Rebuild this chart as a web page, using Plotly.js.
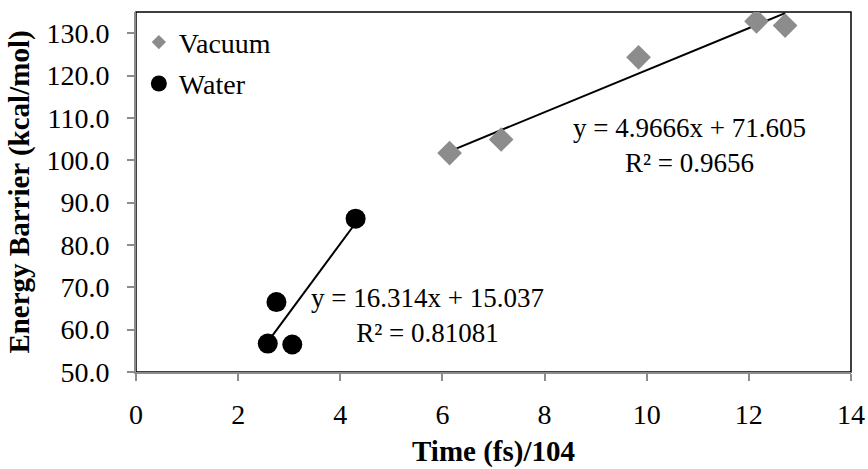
<!DOCTYPE html>
<html>
<head>
<meta charset="utf-8">
<script src="https://cdn.plot.ly/plotly-3.0.1.min.js"></script>
<style>
html,body{margin:0;padding:0;background:#fff;}
#chart{width:868px;height:469px;}
</style>
</head>
<body>
<div id="chart"></div>
<script>
// ---- data ----
const seriesNames = ["Vacuum", "Water"];
const xVacuum = [6.14, 7.15, 9.84, 12.15, 12.71];
const yVacuum = [101.7, 104.9, 124.3, 132.8, 131.8];
const xWater = [2.58, 2.75, 3.06, 4.30];
const yWater = [56.7, 66.5, 56.5, 86.2];
// trendline coefficients as printed on the chart
const fitSlopes = [4.9666, 16.314];
const fitIntercepts = [71.605, 15.037];
const fitR2 = ["0.9656", "0.81081"];
const xTicks = [0, 2, 4, 6, 8, 10, 12, 14];
const yTicks = [50, 60, 70, 80, 90, 100, 110, 120, 130];
const xTitle = "Time (fs)/104";
const yTitle = "Energy Barrier (kcal/mol)";

const FONT = "Liberation Serif";
const GRAY = "#8c8c8c";

function trend(xs, slope, intercept) {
  const lo = Math.min.apply(null, xs), hi = Math.max.apply(null, xs);
  return { x: [lo, hi], y: [slope * lo + intercept, slope * hi + intercept] };
}
const tV = trend(xVacuum, fitSlopes[0], fitIntercepts[0]);
const tW = trend(xWater, fitSlopes[1], fitIntercepts[1]);

const traces = [
  { x: tV.x, y: tV.y, mode: "lines", line: { color: "#000", width: 2 }, showlegend: false, hoverinfo: "skip" },
  { x: tW.x, y: tW.y, mode: "lines", line: { color: "#000", width: 2 }, showlegend: false, hoverinfo: "skip" },
  { x: xVacuum, y: yVacuum, mode: "markers", name: seriesNames[0], showlegend: false,
    marker: { symbol: "diamond", size: 19, color: GRAY } },
  { x: xWater, y: yWater, mode: "markers", name: seriesNames[1], showlegend: false,
    marker: { symbol: "circle", size: 20, color: "#000" } },
  // legend entries (no data, smaller legend symbols as in the reference)
  { x: [null], y: [null], mode: "markers", name: seriesNames[0], legendgroup: "v",
    marker: { symbol: "diamond", size: 11, color: GRAY } },
  { x: [null], y: [null], mode: "markers", name: seriesNames[1], legendgroup: "w",
    marker: { symbol: "circle", size: 16, color: "#000" } }
];

function eqText(i) {
  const sign = fitIntercepts[i] >= 0 ? "+" : "-";
  return "y = " + fitSlopes[i] + "x " + sign + " " + Math.abs(fitIntercepts[i]).toFixed(3) +
         "<br>R² = " + fitR2[i];
}

const layout = {
  width: 868, height: 469,
  margin: { l: 136, r: 17, t: 12, b: 97 },
  paper_bgcolor: "#fff", plot_bgcolor: "#fff",
  font: { family: FONT, size: 27, color: "#000" },
  showlegend: true,
  legend: { x: 0.004, y: 0.985, xanchor: "left", yanchor: "top", bgcolor: "rgba(0,0,0,0)",
            font: { family: FONT, size: 28 }, traceorder: "grouped", tracegroupgap: 2, itemwidth: 30 },
  xaxis: {
    range: [0, 14], tickvals: xTicks, ticktext: xTicks.map(String),
    showgrid: false, zeroline: false, showline: true, linecolor: GRAY, linewidth: 2,
    ticks: "outside", ticklen: 7, tickwidth: 2, tickcolor: GRAY, ticklabelstandoff: 9,
    tickfont: { family: FONT, size: 28 },
    title: { text: "<b>" + xTitle + "</b>", font: { family: FONT, size: 29 }, standoff: 12 },
    automargin: false
  },
  yaxis: {
    range: [50, 135], tickvals: yTicks, ticktext: yTicks.map(v => v.toFixed(1)),
    showgrid: false, zeroline: false, showline: true, linecolor: GRAY, linewidth: 2,
    ticks: "outside", ticklen: 7, tickwidth: 2, tickcolor: GRAY, ticklabelstandoff: 12,
    tickfont: { family: FONT, size: 28 },
    title: { text: "<b>" + yTitle + "</b>", font: { family: FONT, size: 29 }, standoff: 8 },
    automargin: false
  },
  shapes: [
    { type: "rect", xref: "paper", yref: "paper", x0: 0, x1: 1, y0: 0, y1: 1,
      line: { color: "#000", width: 1.5 }, layer: "below" }
  ],
  annotations: [
    { x: 10.84, y: 103.4, xref: "x", yref: "y", text: eqText(0), showarrow: false,
      align: "center", font: { family: FONT, size: 27 } },
    { x: 5.71, y: 63.4, xref: "x", yref: "y", text: eqText(1), showarrow: false,
      align: "center", font: { family: FONT, size: 27 } }
  ]
};

Plotly.newPlot("chart", traces, layout, { staticPlot: true, displayModeBar: false });
</script>
</body>
</html>
